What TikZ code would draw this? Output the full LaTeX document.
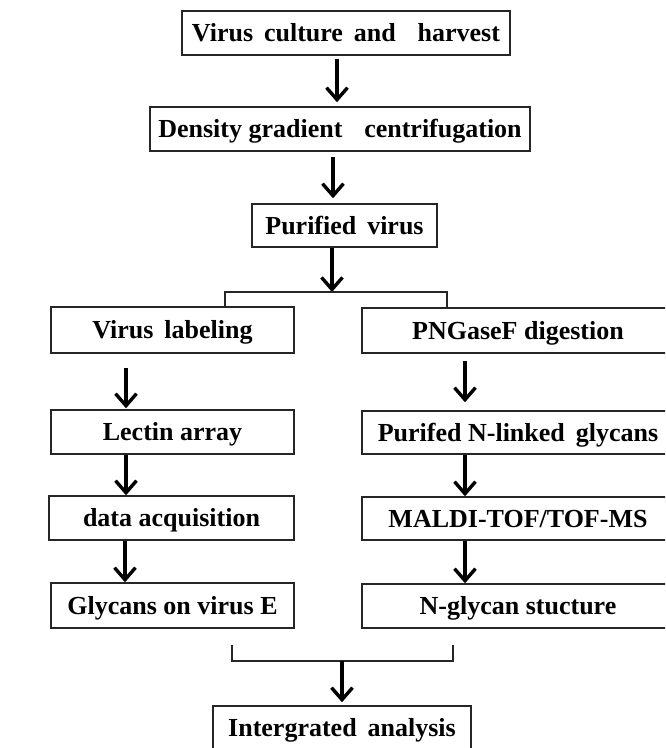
\documentclass[tikz,border=0pt]{standalone}
\usepackage{fontspec}
\setmainfont{Liberation Serif}
\usetikzlibrary{arrows.meta}
\tikzset{
  box/.style={draw=black!85, line width=1.5pt, rectangle, inner sep=0pt,
    text height=17pt, text depth=0pt,
    font=\fontsize{26}{30}\selectfont\bfseries, text=black},
  arr/.style={line width=3.4pt, -{Straight Barb[length=12pt,width=21pt,line width=3.4pt]}},
  brk/.style={line width=1.5pt, draw=black!85},
}
\newcommand{\ws}{\hspace{0.42em}}
\begin{document}
\begin{tikzpicture}[x=1pt,y=-1pt]
\useasboundingbox (0,0) rectangle (665,748);
\clip (0,0) rectangle (665,748);
% boxes
\node[box, minimum width=328pt, minimum height=44pt] (b1) at (346,33) {Virus\ws culture\ws and\ws\ws harvest};
\node[box, minimum width=380pt, minimum height=44pt] (b2) at (340,129) {Density gradient\ws\ws centrifugation};
\node[box, minimum width=185pt, minimum height=43pt] (b3) at (344.5,225.5) {Purified\ws virus};
\node[box, minimum width=243pt, minimum height=46pt] (vl) at (172.5,330) {Virus\ws labeling};
\node[box, minimum width=312pt, minimum height=45pt] (pn) at (518,330.5) {PNGaseF digestion};
\node[box, minimum width=243pt, minimum height=44pt] (la) at (172.5,432) {Lectin array};
\node[box, minimum width=312pt, minimum height=43pt] (pg) at (518,432.5) {Purifed N-linked\ws glycans};
\node[box, minimum width=245pt, minimum height=44pt] (da) at (171.5,518) {data acquisition};
\node[box, minimum width=312pt, minimum height=43pt] (ma) at (518,518.5) {MALDI-TOF/TOF-MS};
\node[box, minimum width=243pt, minimum height=45pt] (gv) at (172.5,605.5) {Glycans on virus E};
\node[box, minimum width=312pt, minimum height=44pt] (ng) at (518,606) {N-glycan stucture};
\node[box, minimum width=258pt, minimum height=44pt] (ia) at (342,728) {Intergrated\ws analysis};
% arrows main column
\draw[arr, shorten <=3pt, shorten >=4pt] ([xshift=-9pt]b1.south) -- ([xshift=-9pt]b1.south |- b2.north);
\draw[arr, shorten <=5pt, shorten >=5pt] ([xshift=-7pt]b2.south) -- ([xshift=-7pt]b2.south |- b3.north);
% top bracket
\coordinate (bl) at (225,292);
\coordinate (br) at (447,292);
\draw[arr] ([xshift=-12.5pt]b3.south) -- ([xshift=-12.5pt]b3.south |- bl);
\draw[brk] (vl.north -| bl) -- (bl) -- (br) -- (pn.north -| br);
% left column
\draw[arr, shorten <=14pt, shorten >=1pt] ([xshift=-46.5pt]vl.south) -- ([xshift=-46.5pt]vl.south |- la.north);
\draw[arr] ([xshift=-46.5pt]la.south) -- ([xshift=-46.5pt]la.south |- da.north);
\draw[arr] ([xshift=-46.5pt]da.south) -- ([xshift=-46.5pt]da.south |- gv.north);
% right column
\draw[arr, shorten <=7pt, shorten >=8pt] ([xshift=-53pt]pn.south) -- ([xshift=-53pt]pn.south |- pg.north);
\draw[arr] ([xshift=-53pt]pg.south) -- ([xshift=-53pt]pg.south |- ma.north);
\draw[arr] ([xshift=-53pt]ma.south) -- ([xshift=-53pt]ma.south |- ng.north);
% bottom bracket
\coordinate (cl0) at (232,645);
\coordinate (cl) at (232,661);
\coordinate (cr) at (453,661);
\coordinate (cr0) at (453,645);
\coordinate (cm) at (342,661);
\draw[brk] (cl0) -- (cl) -- (cr) -- (cr0);
\draw[arr, shorten >=3pt] (cm) -- (ia.north);
\end{tikzpicture}
\end{document}
